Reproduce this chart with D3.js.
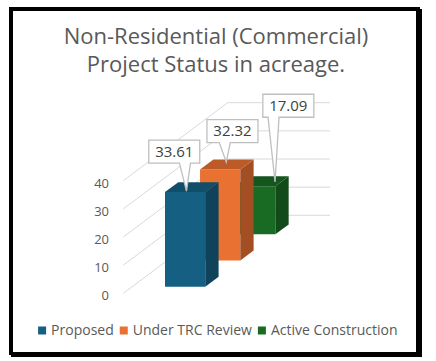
<!DOCTYPE html>
<html>
<head>
<meta charset="utf-8">
<script src="https://cdn.jsdelivr.net/npm/d3@7"></script>
<style>
  html, body { margin: 0; padding: 0; background: #ffffff; }
  svg { display: block; }
</style>
</head>
<body>
<div id="chart"></div>
<script>
// ---------- data ----------
const categories = ["Non-Residential (Commercial)"];
const seriesNames = ["Proposed", "Under TRC Review", "Active Construction"];
const seriesValues = [33.61, 32.32, 17.09];
const seriesColors = ["#156082", "#E97132", "#196B24"];
const yTicks = [0, 10, 20, 30, 40];
const titleLines = ["Non-Residential (Commercial)", "Project Status in acreage."];

// ---------- layout ----------
const W = 436, H = 361;
const fontFamily = "'Open Sans', 'Noto Sans', sans-serif";
const textColor = "#595959";
const gridColor = "#d9d9d9";
const depthVec = { x: 104.4, y: -78 };   // oblique projection of full depth
// data-label callout placement (position on bar top, box offset from tip)
const labelLayout = [
  { u: 0.5, w: 0.1, dx: -37.7, dy: -51 },
  { u: 0.4, w: 0.76, dx: -19.3, dy: -42.4 },
  { u: 0.85, w: 0.43, dx: -12.2, dy: -87.7 }
];

const svg = d3.select("#chart").append("svg")
  .attr("width", W).attr("height", H);

// frame with shadow
svg.append("rect").attr("x", 11).attr("y", 9).attr("width", 411).attr("height", 348).attr("fill", "#000");
svg.append("rect").attr("x", 9).attr("y", 7).attr("width", 411).attr("height", 348).attr("fill", "#000");
svg.append("rect").attr("x", 13).attr("y", 11).attr("width", 403).attr("height", 341).attr("fill", "#fff");

// title
svg.append("g").selectAll("text").data(titleLines).join("text")
  .attr("x", 216)
  .attr("y", (d, i) => 43.5 + i * 28.3)
  .attr("text-anchor", "middle")
  .attr("font-family", fontFamily)
  .attr("font-size", 22)
  .attr("fill", textColor)
  .text(d => d);

// scales
const yScale = d3.scaleLinear().domain([0, 40]).range([293.3, 180.7]);
const xScale = d3.scaleBand().domain(categories).range([123.3, 225.6])
  .paddingInner(0.435).paddingOuter(0.435).align(0.53);
const zScale = d3.scaleBand().domain(seriesNames).range([0, 1])
  .paddingInner(0.62).paddingOuter(0.3).align(0.42);

const proj = (x, v, z) => [x + z * depthVec.x, yScale(v) + z * depthVec.y];
const poly = pts => "M" + pts.map(p => p.join(",")).join("L") + "Z";

// gridlines: side wall + back wall
const xL = xScale.range()[0], xR = xScale.range()[1];
const grid = svg.append("g");
grid.selectAll("polyline").data(yTicks).join("polyline")
  .attr("points", t => [proj(xL, t, 0), proj(xL, t, 1), proj(xR, t, 1)].map(p => p.join(",")).join(" "))
  .attr("fill", "none")
  .attr("stroke", gridColor)
  .attr("stroke-width", 1);

// axis tick labels
svg.append("g").selectAll("text").data(yTicks).join("text")
  .attr("x", 109)
  .attr("y", t => yScale(t) + 2.5)
  .attr("dy", "0.35em")
  .attr("text-anchor", "end")
  .attr("font-family", fontFamily)
  .attr("font-size", 13)
  .attr("fill", textColor)
  .text(t => t);

// bars (draw back to front)
const bars = seriesNames.map((s, i) => {
  const x0 = xScale(categories[0]), x1 = x0 + xScale.bandwidth();
  const z0 = zScale(s), z1 = z0 + zScale.bandwidth();
  return { s, i, v: seriesValues[i], color: seriesColors[i], x0, x1, z0, z1 };
});
const barG = svg.append("g");
bars.slice().reverse().forEach(b => {
  const g = barG.append("g");
  const c = d3.color(b.color);
  g.append("path").attr("d", poly([proj(b.x0, 0, b.z0), proj(b.x1, 0, b.z0), proj(b.x1, b.v, b.z0), proj(b.x0, b.v, b.z0)]))
    .attr("fill", c.formatHex());
  g.append("path").attr("d", poly([proj(b.x1, 0, b.z0), proj(b.x1, 0, b.z1), proj(b.x1, b.v, b.z1), proj(b.x1, b.v, b.z0)]))
    .attr("fill", c.darker(1).formatHex());
  g.append("path").attr("d", poly([proj(b.x0, b.v, b.z0), proj(b.x1, b.v, b.z0), proj(b.x1, b.v, b.z1), proj(b.x0, b.v, b.z1)]))
    .attr("fill", c.darker(0.6).formatHex());
});

// data label callouts
const boxW = 51, boxH = 23;
const lblG = svg.append("g");
bars.forEach(b => {
  const L = labelLayout[b.i];
  const tip = proj(b.x0 + L.u * (b.x1 - b.x0), b.v, b.z0 + L.w * (b.z1 - b.z0));
  const bx = tip[0] + L.dx, by = tip[1] + L.dy;
  const bl = Math.max(bx + 2, tip[0] - 7), br = Math.min(bx + boxW - 2, tip[0] + 4);
  const d = `M${bx},${by}H${bx + boxW}V${by + boxH}H${br}L${tip[0]},${tip[1]}L${bl},${by + boxH}H${bx}Z`;
  lblG.append("path").attr("d", d)
    .attr("fill", "#fff").attr("stroke", "#bfbfbf").attr("stroke-width", 1.3);
  lblG.append("text")
    .attr("x", bx + boxW / 2).attr("y", by + boxH / 2)
    .attr("dy", "0.36em")
    .attr("text-anchor", "middle")
    .attr("font-family", fontFamily)
    .attr("font-size", 15)
    .attr("fill", "#404040")
    .text(d3.format(".2f")(b.v));
});

// legend
const legG = svg.append("g");
const items = legG.selectAll("g").data(seriesNames).join("g");
items.append("rect").attr("width", 8).attr("height", 8).attr("y", -4)
  .attr("fill", (d, i) => seriesColors[i]);
items.append("text").attr("x", 13).attr("dy", "0.35em")
  .attr("font-family", fontFamily).attr("font-size", 14).attr("fill", textColor)
  .text(d => d);
let xpos = 0;
const widths = [];
items.each(function () {
  const w = 13 + this.querySelector("text").getComputedTextLength();
  widths.push(w);
});
const gap = 6;
const total = d3.sum(widths) + gap * (widths.length - 1);
xpos = 217.8 - total / 2;
items.attr("transform", (d, i) => {
  const t = `translate(${xpos},330.5)`;
  xpos += widths[i] + gap;
  return t;
});
</script>
</body>
</html>
